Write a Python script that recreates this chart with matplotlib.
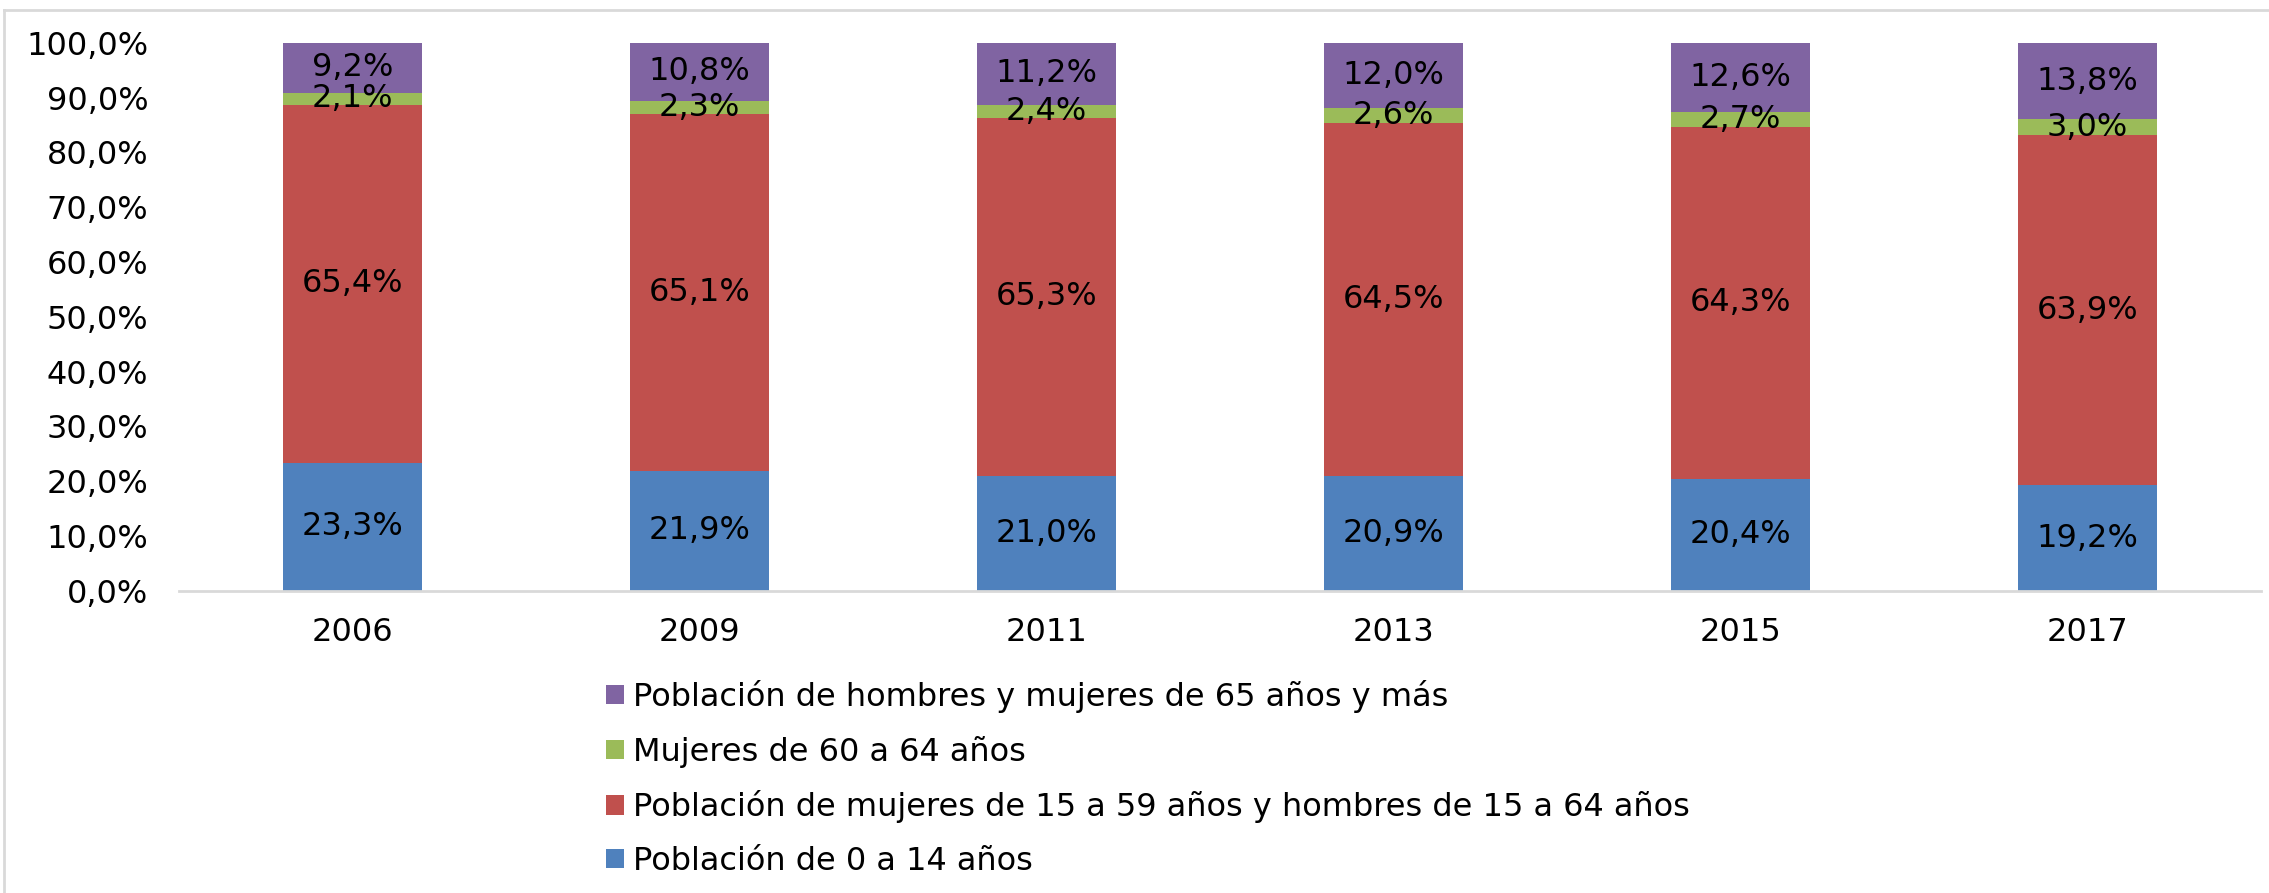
import matplotlib.pyplot as plt
from matplotlib.patches import Patch
from matplotlib.lines import Line2D
from matplotlib.ticker import FuncFormatter, MultipleLocator

plt.rcParams['font.family'] = ['DejaVu Sans']

# datos
years = ['2006', '2009', '2011', '2013', '2015', '2017']
pob_0_14 = [23.3, 21.9, 21.0, 20.9, 20.4, 19.2]
pob_15_64 = [65.4, 65.1, 65.3, 64.5, 64.3, 63.9]
muj_60_64 = [2.1, 2.3, 2.4, 2.6, 2.7, 3.0]
pob_65_mas = [9.2, 10.8, 11.2, 12.0, 12.6, 13.8]

series = [
    ('Población de 0 a 14 años', pob_0_14, '#4F81BD'),
    ('Población de mujeres de 15 a 59 años y hombres de 15 a 64 años', pob_15_64, '#C0504D'),
    ('Mujeres de 60 a 64 años', muj_60_64, '#9BBB59'),
    ('Población de hombres y mujeres de 65 años y más', pob_65_mas, '#8064A2'),
]

W, H = 2269, 893
fig = plt.figure(figsize=(W / 100, H / 100), dpi=100)
ax = fig.add_axes([179 / W, 1 - 590.7 / H, (2261 - 179) / W, (590.7 - 42.7) / H])

fs = 23
x = list(range(len(years)))
bottom = [0.0] * len(years)
handles = []
for name, vals, col in series:
    ax.bar(x, vals, width=0.4, bottom=bottom, color=col, linewidth=0)
    for i, v in enumerate(vals):
        ax.text(i, bottom[i] + v / 2, f'{v:.1f}%'.replace('.', ','),
                ha='center', va='center', fontsize=fs, color='black')
    bottom = [b + v for b, v in zip(bottom, vals)]
    handles.append(Patch(facecolor=col, edgecolor='none', label=name))

ax.set_xlim(-0.5, len(years) - 0.5)
ax.set_ylim(0, 100)
ax.yaxis.set_major_locator(MultipleLocator(10))
ax.yaxis.set_major_formatter(FuncFormatter(lambda v, p: f'{v:.1f}%'.replace('.', ',')))
ax.set_xticks(x)
ax.set_xticklabels(years)
ax.tick_params(axis='y', length=0, pad=22, labelsize=fs)
ax.tick_params(axis='x', length=0, pad=19, labelsize=fs)
for s in ['top', 'right', 'left']:
    ax.spines[s].set_visible(False)
ax.spines['bottom'].set_color('#D9D9D9')
ax.spines['bottom'].set_linewidth(2)

# marco del gráfico
fig.add_artist(Line2D([4 / W, 1.01], [1 - 10 / H] * 2, transform=fig.transFigure,
                      color='#D9D9D9', lw=2))
fig.add_artist(Line2D([4 / W] * 2, [-0.01, 1 - 10 / H], transform=fig.transFigure,
                      color='#D9D9D9', lw=2))

fig.legend(handles=handles[::-1], loc='upper left',
           bbox_to_anchor=(606 / W, 1 - 680 / H), frameon=False, fontsize=fs,
           borderpad=0, borderaxespad=0, handlelength=0.56, handleheight=0.56,
           handletextpad=0.3, labelspacing=0.71)

fig.savefig('out.png', dpi=100, facecolor='white')
